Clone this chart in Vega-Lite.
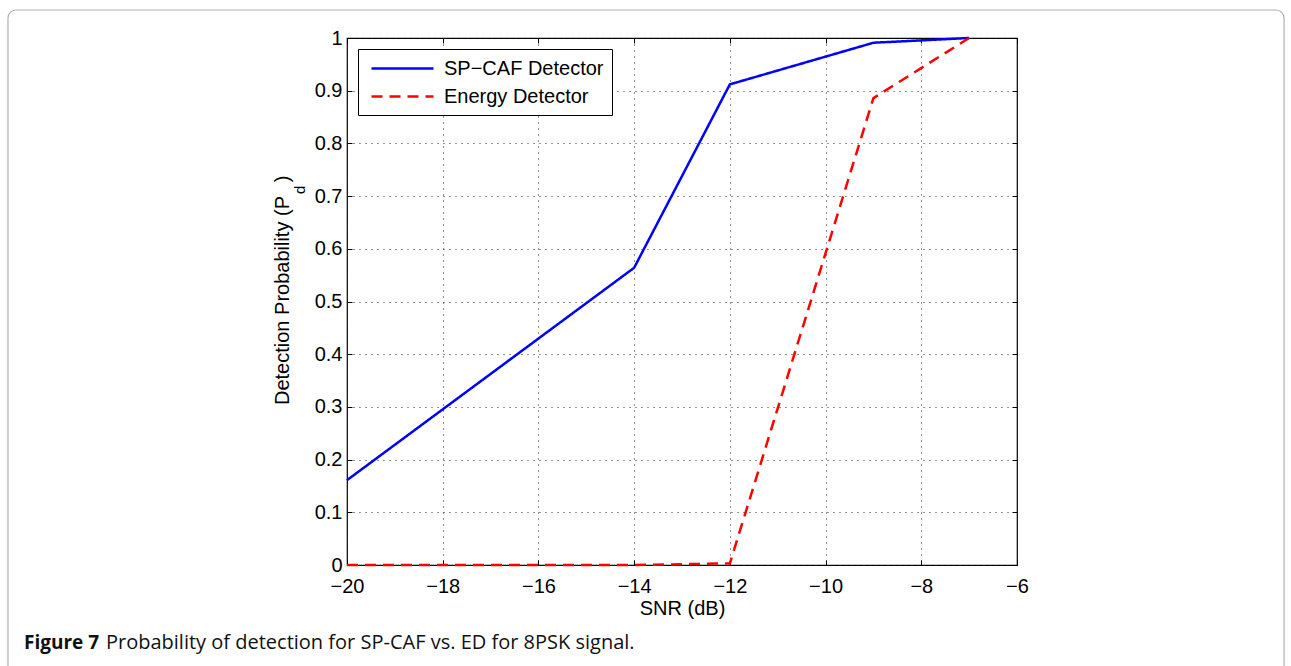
{
  "$schema": "https://vega.github.io/schema/vega-lite/v6.json",
  "width": 670,
  "height": 527,
  "autosize": {"type": "none"},
  "padding": {"left": 347, "top": 38, "right": 274, "bottom": 101},
  "background": "white",
  "config": {
    "font": "Liberation Sans",
    "view": {"stroke": "black", "strokeWidth": 1.2},
    "axis": {
      "labelFont": "Liberation Sans",
      "labelFontSize": 20,
      "labelColor": "black",
      "labelFlush": false,
      "titleFont": "Liberation Sans",
      "titleFontSize": 20,
      "titleFontWeight": "normal",
      "titleColor": "black",
      "domain": false,
      "tickColor": "black",
      "tickSize": -5,
      "tickWidth": 1
    }
  },
  "datasets": {
    "curves": [
      {"series": "SP−CAF Detector", "snr": -20, "pd": 0.161},
      {"series": "SP−CAF Detector", "snr": -14, "pd": 0.564},
      {"series": "SP−CAF Detector", "snr": -12, "pd": 0.912},
      {"series": "SP−CAF Detector", "snr": -9, "pd": 0.991},
      {"series": "SP−CAF Detector", "snr": -7, "pd": 1.0},
      {"series": "Energy Detector", "snr": -20, "pd": 0.0},
      {"series": "Energy Detector", "snr": -18, "pd": 0.0},
      {"series": "Energy Detector", "snr": -16, "pd": 0.0},
      {"series": "Energy Detector", "snr": -14, "pd": 0.0},
      {"series": "Energy Detector", "snr": -12, "pd": 0.003},
      {"series": "Energy Detector", "snr": -9, "pd": 0.886},
      {"series": "Energy Detector", "snr": -7, "pd": 1.0}
    ],
    "caption": [
      {"bold": "Figure 7", "rest": "Probability of detection for SP-CAF vs. ED for 8PSK signal."}
    ],
    "ytitle": [
      {"main": "Detection Probability (P", "sub": "d", "close": ")"}
    ]
  },
  "layer": [
    {
      "data": {"values": [{"frame": 1}]},
      "mark": {"type": "rect", "fill": null, "fillOpacity": 0, "stroke": "#b0b0b0", "strokeWidth": 1.2, "cornerRadius": 8, "clip": false},
      "encoding": {
        "x": {"datum": -27.084, "type": "quantitative", "axis": null},
        "x2": {"datum": -0.42},
        "y": {"datum": 1.0531, "type": "quantitative", "axis": null},
        "y2": {"datum": -0.3}
      }
    },
    {
      "data": {"name": "curves"},
      "mark": {"type": "line", "strokeWidth": 2.5, "clip": false},
      "encoding": {
        "x": {
          "field": "snr", "type": "quantitative",
          "scale": {"domain": [-20, -6], "nice": false, "zero": false},
          "axis": {"values": [-20, -18, -16, -14, -12, -10, -8, -6], "title": "SNR (dB)", "grid": true, "gridColor": "#222222", "gridDash": [1, 5], "gridWidth": 1, "labelPadding": 16, "titlePadding": 2}
        },
        "y": {
          "field": "pd", "type": "quantitative",
          "scale": {"domain": [0, 1], "nice": false},
          "axis": {"values": [0, 0.1, 0.2, 0.3, 0.4, 0.5, 0.6, 0.7, 0.8, 0.9, 1], "format": "~g", "title": null, "grid": true, "gridColor": "#222222", "gridDash": [1, 5], "gridWidth": 1, "labelPadding": 10}
        },
        "color": {
          "field": "series", "type": "nominal",
          "scale": {"domain": ["SP−CAF Detector", "Energy Detector"], "range": ["#0000ff", "#ff0000"]},
          "legend": {
            "title": null,
            "orient": "top-left",
            "offset": 11,
            "fillColor": "white",
            "strokeColor": "black",
            "padding": 8,
            "labelFontSize": 20,
            "labelFont": "Liberation Sans",
            "labelColor": "black",
            "symbolType": "M-0.6,0L5.6,0",
            "symbolSize": 400,
            "symbolStrokeWidth": 2.5,
            "rowPadding": 6,
            "labelOffset": 55
          }
        },
        "strokeDash": {
          "field": "series", "type": "nominal",
          "scale": {"domain": ["SP−CAF Detector", "Energy Detector"], "range": [[1, 0], [11, 7]]},
          "legend": null
        }
      }
    },
    {
      "data": {"name": "curves"},
      "mark": {"type": "point", "opacity": 0},
      "encoding": {
        "x": {
          "field": "snr", "type": "quantitative",
          "axis": {"orient": "top", "values": [-20, -18, -16, -14, -12, -10, -8, -6], "labels": false, "title": null, "grid": false}
        },
        "y": {
          "field": "pd", "type": "quantitative",
          "axis": {"orient": "right", "values": [0, 0.1, 0.2, 0.3, 0.4, 0.5, 0.6, 0.7, 0.8, 0.9, 1], "labels": false, "title": null, "grid": false}
        }
      }
    },
    {
      "data": {"name": "ytitle"},
      "mark": {"type": "text", "align": "left", "baseline": "alphabetic", "angle": 270, "font": "Liberation Sans", "fontSize": 20, "color": "black"},
      "encoding": {
        "x": {"datum": -21.212, "type": "quantitative", "axis": null},
        "y": {"datum": 0.3036, "type": "quantitative", "axis": null},
        "text": {"field": "main"}
      }
    },
    {
      "data": {"name": "ytitle"},
      "mark": {"type": "text", "align": "left", "baseline": "alphabetic", "angle": 270, "font": "Liberation Sans", "fontSize": 15, "color": "black"},
      "encoding": {
        "x": {"datum": -20.878, "type": "quantitative", "axis": null},
        "y": {"datum": 0.704, "type": "quantitative", "axis": null},
        "text": {"field": "sub"}
      }
    },
    {
      "data": {"name": "ytitle"},
      "mark": {"type": "text", "align": "left", "baseline": "alphabetic", "angle": 270, "font": "Liberation Sans", "fontSize": 20, "color": "black"},
      "encoding": {
        "x": {"datum": -21.212, "type": "quantitative", "axis": null},
        "y": {"datum": 0.7265, "type": "quantitative", "axis": null},
        "text": {"field": "close"}
      }
    },
    {
      "data": {"name": "caption"},
      "mark": {"type": "text", "align": "left", "baseline": "alphabetic", "font": "Open Sans", "fontSize": 19, "fontWeight": "bold", "color": "#111111"},
      "encoding": {
        "x": {"datum": -26.749, "type": "quantitative", "axis": null},
        "y": {"datum": -0.1594, "type": "quantitative", "axis": null},
        "text": {"field": "bold"}
      }
    },
    {
      "data": {"name": "caption"},
      "mark": {"type": "text", "align": "left", "baseline": "alphabetic", "font": "Open Sans", "fontSize": 20, "color": "#111111"},
      "encoding": {
        "x": {"datum": -25.036, "type": "quantitative", "axis": null},
        "y": {"datum": -0.1594, "type": "quantitative", "axis": null},
        "text": {"field": "rest"}
      }
    }
  ],
  "resolve": {"axis": {"x": "independent", "y": "independent"}}
}
